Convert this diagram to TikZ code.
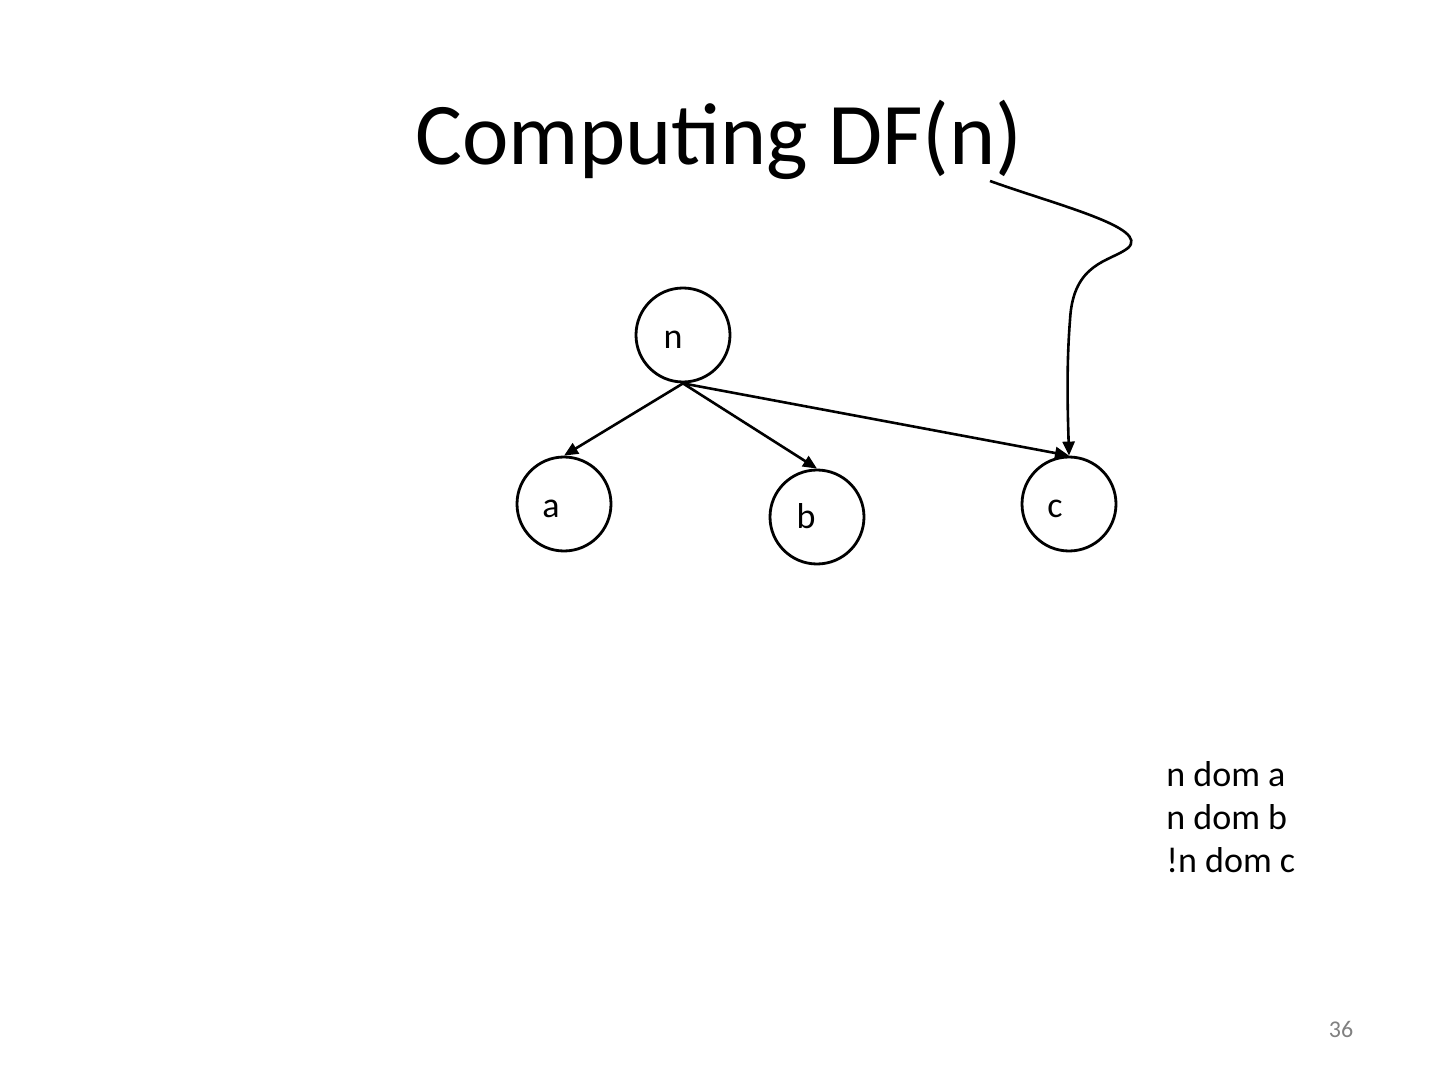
\documentclass[tikz,border=0pt]{standalone}
\usepackage{fontspec}
\setmainfont{Carlito}
\usetikzlibrary{arrows.meta}
\begin{document}
\begin{tikzpicture}[x=0.5pt,y=-0.5pt,
  circ/.style={draw, circle, line width=1.4pt, minimum size=47pt, inner sep=0pt},
  lbl/.style={anchor=base, font=\fontsize{18}{21.6}\selectfont, inner sep=0pt},
  edge/.style={line width=1.3pt, -{Triangle[length=7pt,width=6pt]}}]
\useasboundingbox (0,0) rectangle (1440,1080);
\node[font=\fontsize{44}{52}\selectfont, anchor=base] (title) at (719,165) {Computing DF(n)};
\node[circ] (n) at (683,335) {};
\node[circ] (a) at (564,504) {};
\node[circ] (b) at (817,517) {};
\node[circ] (c) at (1069,504) {};
\node[lbl] (ln) at (673,349) {n};
\node[lbl] (la) at (551,517) {a};
\node[lbl] (lb) at (806,528) {b};
\node[lbl] (lc) at (1055,517) {c};
\coordinate (s) at (990,181);
\draw[edge] (n.south) -- (a.north);
\draw[edge] (n.south) -- (b.north);
\draw[edge] (n.south) -- (c.north);
\draw[edge] (s) .. controls (1060,206) and (1150,228) .. (1128,248)
  .. controls (1110,262) and (1073,262) .. (1070,320)
  .. controls (1066,370) and (1068,420) .. (c.north);
\node[lbl, anchor=base west] (t1) at (1166,786) {n dom a};
\node[lbl, anchor=base west] (t2) at (1166,829) {n dom b};
\node[lbl, anchor=base west] (t3) at (1166,872) {!n dom c};
\node[anchor=base, font=\fontsize{12}{14}\selectfont, text=gray] (pg) at (1341,1037) {36};
\end{tikzpicture}
\end{document}
